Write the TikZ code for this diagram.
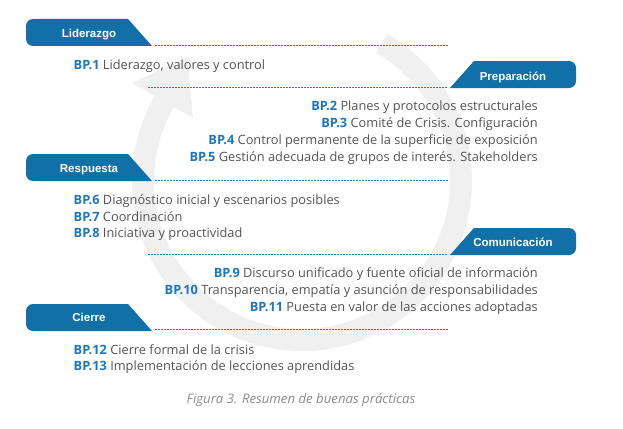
\documentclass[tikz,border=0pt]{standalone}
\usepackage{fontspec}
\setmainfont{Open Sans}
\newfontfamily\tabfont{Liberation Sans}
\usetikzlibrary{calc}
\definecolor{tabblue}{RGB}{18,112,168}
\definecolor{bpblue}{RGB}{30,118,190}
\definecolor{txtgray}{RGB}{84,84,84}
\definecolor{capgray}{RGB}{140,140,140}
\definecolor{linblue}{RGB}{40,128,196}
\definecolor{ringgray}{RGB}{240,240,240}
\newcommand\bpl[1]{\textcolor{bpblue}{\bfseries #1}}
\begin{document}
\begin{tikzpicture}[x=1pt,y=-1pt,
  tabtext/.style={font=\tabfont\bfseries\fontsize{11.5}{13}\selectfont, text=white, inner sep=0pt, anchor=base},
  item/.style={font=\fontsize{12.8}{15}\selectfont, text=txtgray, inner sep=0pt},
  leftitem/.style={item, anchor=base west},
  rightitem/.style={item, anchor=base east},
  sep/.style={draw=linblue, line width=0.8pt, dash pattern=on 2pt off 1pt},
  tabshape/.style={fill=tabblue},
  ring/.style={draw=ringgray, line width=22pt},
  ringhead/.style={fill=ringgray}
]
\useasboundingbox (0,0) rectangle (623,428);
\fill[white] (0,0) rectangle (623,428);

% background circular arrow
\coordinate (c) at (302,181);
\draw[ring] ($(c)+(-60:159)$) arc[start angle=-60, end angle=210, radius=159];
\coordinate (hmid) at ($(c)+(210:161)$);
\coordinate (htip) at ($(hmid)+(25,-43.3)$);
\fill[ringhead] ($(c)+(210:126)$) -- ($(c)+(210:196)$) -- (htip) -- cycle;

% Liderazgo
\fill[tabshape] (152,46) coordinate (lidtab) -- (128,19) -- (33,19) arc[start angle=270,end angle=180,radius=7] -- (26,39) arc[start angle=180,end angle=90,radius=7] -- cycle;
\node[tabtext] (lid) at (89,37.7) {Liderazgo};
\coordinate (lidend) at (448,45.5);
\draw[sep] (lidtab) ++(3,-0.5) -- (lidend);
\node[leftitem] (bp1) at (73.5,69) {\bpl{BP.1} Liderazgo, valores y control};

% Preparacion
\fill[tabshape] (450,88) coordinate (preptab) -- (474,61) -- (569,61) arc[start angle=270,end angle=360,radius=7] -- (576,81) arc[start angle=0,end angle=90,radius=7] -- cycle;
\node[tabtext] (prep) at (513,80) {Preparación};
\coordinate (prepend) at (148,87.5);
\draw[sep] (prepend) -- ($(preptab)+(-2,-0.5)$);
\node[rightitem] (bp2) at (538,110) {\bpl{BP.2} Planes y protocolos estructurales};
\node[rightitem] (bp3) at (538,127.3) {\bpl{BP.3} Comité de Crisis. Configuración};
\node[rightitem] (bp4) at (538,144.3) {\bpl{BP.4} Control permanente de la superficie de exposición};
\node[rightitem] (bp5) at (538,161.7) {\bpl{BP.5} Gestión adecuada de grupos de interés. Stakeholders};

% Respuesta
\fill[tabshape] (152,181) coordinate (restab) -- (128,154) -- (33,154) arc[start angle=270,end angle=180,radius=7] -- (26,174) arc[start angle=180,end angle=90,radius=7] -- cycle;
\node[tabtext] (res) at (89,172) {Respuesta};
\coordinate (resend) at (448,180);
\draw[sep] (restab) ++(3,-1) -- (resend);
\node[leftitem] (bp6) at (73.5,204) {\bpl{BP.6} Diagnóstico inicial y escenarios posibles};
\node[leftitem] (bp7) at (73.5,221) {\bpl{BP.7} Coordinación};
\node[leftitem] (bp8) at (73.5,237.5) {\bpl{BP.8} Iniciativa y proactividad};

% Comunicacion
\fill[tabshape] (450,255) coordinate (comtab) -- (474,228) -- (569,228) arc[start angle=270,end angle=360,radius=7] -- (576,248) arc[start angle=0,end angle=90,radius=7] -- cycle;
\node[tabtext] (com) at (513,246.5) {Comunicación};
\coordinate (comend) at (148,254);
\draw[sep] (comend) -- ($(comtab)+(-2,-1)$);
\node[rightitem] (bp9) at (538,277.7) {\bpl{BP.9} Discurso unificado y fuente oficial de información};
\node[rightitem] (bp10) at (538,294.3) {\bpl{BP.10} Transparencia, empatía y asunción de responsabilidades};
\node[rightitem] (bp11) at (538,311) {\bpl{BP.11} Puesta en valor de las acciones adoptadas};

% Cierre
\fill[tabshape] (152,331) coordinate (ciertab) -- (128,304) -- (33,304) arc[start angle=270,end angle=180,radius=7] -- (26,324) arc[start angle=180,end angle=90,radius=7] -- cycle;
\node[tabtext] (cie) at (89,321.7) {Cierre};
\coordinate (cieend) at (448,329.5);
\draw[sep] (ciertab) ++(3,-1.5) -- (cieend);
\node[leftitem] (bp12) at (73.5,354) {\bpl{BP.12} Cierre formal de la crisis};
\node[leftitem] (bp13) at (73.5,370.7) {\bpl{BP.13} Implementación de lecciones aprendidas};

% caption
\node[font=\itshape\fontsize{13.2}{15}\selectfont, text=capgray, inner sep=0pt, anchor=base] (cap) at (301,403) {Figura 3. Resumen de buenas prácticas};
\end{tikzpicture}
\end{document}
